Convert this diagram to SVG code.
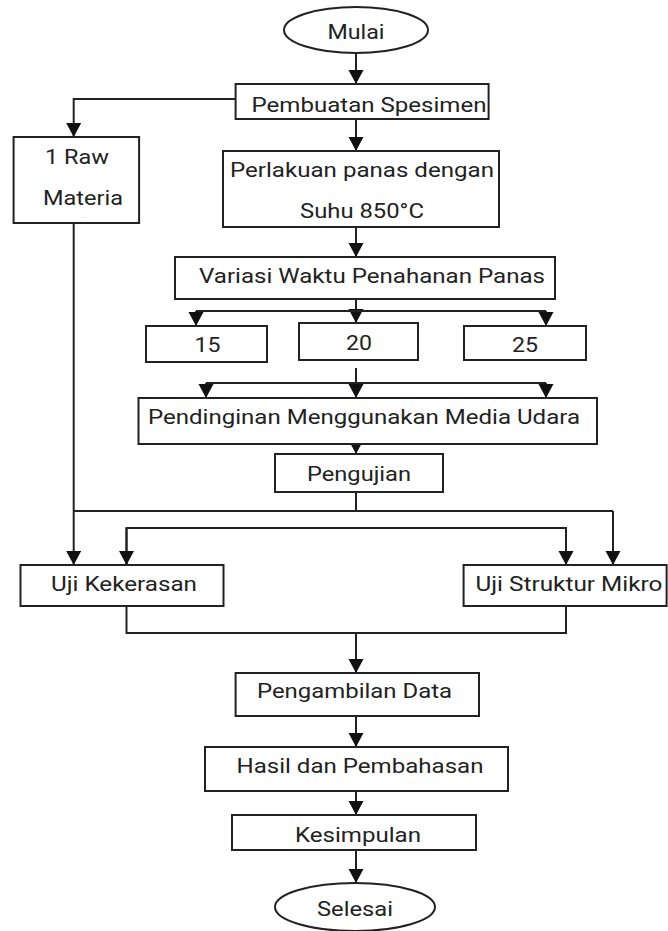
<svg xmlns="http://www.w3.org/2000/svg" width="668" height="931" viewBox="0 0 668 931">
<style>
.b{fill:#fff;stroke:#222;stroke-width:2}
.t{font-family:Roboto,"Liberation Sans",sans-serif;font-size:20px;fill:#222;text-anchor:middle}
.c{fill:none;stroke:#222;stroke-width:2}
</style>
<defs>
<marker id="ah" markerUnits="userSpaceOnUse" markerWidth="16" markerHeight="16" refX="14" refY="7.5" orient="auto">
<path d="M0,0 L14,7.5 L0,15 Z" fill="#111"/>
</marker>
</defs>
<rect width="668" height="931" fill="#fff"/>
<g id="connectors">
<line class="c" x1="356" y1="53" x2="356" y2="84" marker-end="url(#ah)"/>
<polyline class="c" points="235.6,99 73.7,99 73.7,137" marker-end="url(#ah)"/>
<line class="c" x1="356" y1="119" x2="356" y2="151" marker-end="url(#ah)"/>
<line class="c" x1="356" y1="227" x2="356" y2="257" marker-end="url(#ah)"/>
<line class="c" x1="356" y1="299" x2="356" y2="323" marker-end="url(#ah)"/>
<line class="c" x1="196" y1="311" x2="546" y2="311"/>
<line class="c" x1="196" y1="311" x2="196" y2="326" marker-end="url(#ah)"/>
<line class="c" x1="546" y1="311" x2="546" y2="326" marker-end="url(#ah)"/>
<line class="c" x1="356" y1="368" x2="356" y2="398" marker-end="url(#ah)"/>
<line class="c" x1="206" y1="383" x2="546" y2="383"/>
<line class="c" x1="206" y1="383" x2="206" y2="398" marker-end="url(#ah)"/>
<line class="c" x1="546" y1="383" x2="546" y2="398" marker-end="url(#ah)"/>
<line class="c" x1="356" y1="444" x2="356" y2="454" marker-end="url(#ah)"/>
<line class="c" x1="356" y1="492" x2="356" y2="511"/>
<line class="c" x1="73.7" y1="511" x2="613" y2="511"/>
<line class="c" x1="613" y1="511" x2="613" y2="565" marker-end="url(#ah)"/>
<line class="c" x1="73.7" y1="223" x2="73.7" y2="565" marker-end="url(#ah)"/>
<polyline class="c" points="126.5,565 126.5,528 566,528 566,565"/>
<line class="c" x1="126.5" y1="528" x2="126.5" y2="565" marker-end="url(#ah)"/>
<line class="c" x1="566" y1="528" x2="566" y2="565" marker-end="url(#ah)"/>
<polyline class="c" points="126.5,606 126.5,633 566,633 566,606"/>
<line class="c" x1="356" y1="633" x2="356" y2="673" marker-end="url(#ah)"/>
<line class="c" x1="356" y1="716" x2="356" y2="747" marker-end="url(#ah)"/>
<line class="c" x1="356" y1="791" x2="356" y2="815" marker-end="url(#ah)"/>
<line class="c" x1="356" y1="850" x2="356" y2="883" marker-end="url(#ah)"/>
</g>
<g id="mulai"><ellipse class="b" cx="356" cy="30" rx="72" ry="23"/><text class="t" x="356" y="39" textLength="57" lengthAdjust="spacingAndGlyphs">Mulai</text></g>
<g id="pembuatan"><rect class="b" x="235.6" y="84" width="253" height="35"/><text class="t" x="369" y="111.5" textLength="235" lengthAdjust="spacingAndGlyphs">Pembuatan Spesimen</text></g>
<g id="rawmaterial"><rect class="b" x="13.6" y="137" width="125.5" height="86"/><text class="t" x="77" y="164" textLength="64" lengthAdjust="spacingAndGlyphs">1 Raw</text><text class="t" x="83" y="205" textLength="80" lengthAdjust="spacingAndGlyphs">Materia</text><text class="t" x="83" y="218" style="font-size:6px">.</text></g>
<g id="perlakuan"><rect class="b" x="223" y="151" width="276" height="76"/><text class="t" x="362" y="177" textLength="264" lengthAdjust="spacingAndGlyphs">Perlakuan panas dengan</text><text class="t" x="362" y="218" textLength="124" lengthAdjust="spacingAndGlyphs">Suhu 850°C</text></g>
<g id="variasi"><rect class="b" x="175" y="257" width="380" height="42"/><text class="t" x="372" y="283" textLength="346" lengthAdjust="spacingAndGlyphs">Variasi Waktu Penahanan Panas</text></g>
<g id="v15"><rect class="b" x="146" y="326" width="121" height="36"/><text class="t" x="207.5" y="352" textLength="26" lengthAdjust="spacingAndGlyphs">15</text></g>
<g id="v20"><rect class="b" x="299" y="323" width="119" height="37"/><text class="t" x="359" y="350" textLength="26" lengthAdjust="spacingAndGlyphs">20</text></g>
<g id="v25"><rect class="b" x="464" y="326" width="122" height="34"/><text class="t" x="525" y="352" textLength="26" lengthAdjust="spacingAndGlyphs">25</text></g>
<g id="pendinginan"><rect class="b" x="138.5" y="398" width="458.5" height="46"/><text class="t" x="364" y="424" textLength="432" lengthAdjust="spacingAndGlyphs">Pendinginan Menggunakan Media Udara</text></g>
<g id="pengujian"><rect class="b" x="275" y="454" width="168" height="38"/><text class="t" x="359" y="481" textLength="104" lengthAdjust="spacingAndGlyphs">Pengujian</text></g>
<g id="kekerasan"><rect class="b" x="20.5" y="565" width="203" height="41"/><text class="t" x="124" y="591" textLength="146" lengthAdjust="spacingAndGlyphs">Uji Kekerasan</text></g>
<g id="struktur"><rect class="b" x="463.6" y="565" width="203" height="41"/><text class="t" x="569" y="591" textLength="187" lengthAdjust="spacingAndGlyphs">Uji Struktur Mikro</text></g>
<g id="pengambilan"><rect class="b" x="235.6" y="673" width="243.4" height="43"/><text class="t" x="354.5" y="698" textLength="195" lengthAdjust="spacingAndGlyphs">Pengambilan Data</text></g>
<g id="hasil"><rect class="b" x="205" y="747" width="303" height="44"/><text class="t" x="360" y="773" textLength="247" lengthAdjust="spacingAndGlyphs">Hasil dan Pembahasan</text></g>
<g id="kesimpulan"><rect class="b" x="232" y="815" width="244" height="35"/><text class="t" x="358" y="842" textLength="126" lengthAdjust="spacingAndGlyphs">Kesimpulan</text></g>
<g id="selesai"><ellipse class="b" cx="355" cy="907" rx="80" ry="24"/><text class="t" x="355" y="916" textLength="76" lengthAdjust="spacingAndGlyphs">Selesai</text></g>
</svg>
